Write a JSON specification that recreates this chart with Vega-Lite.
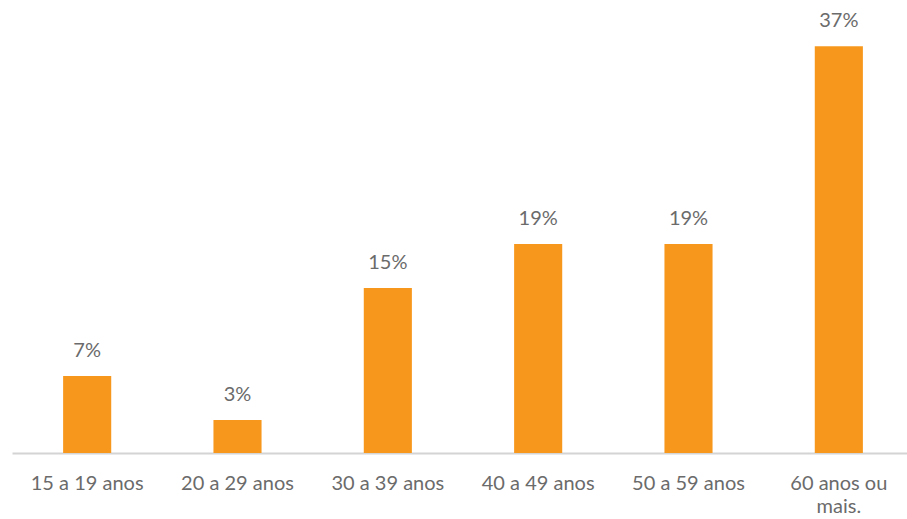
{
  "$schema": "https://vega.github.io/schema/vega-lite/v6.json",
  "autosize": "none",
  "width": 902,
  "height": 453,
  "padding": {"left": 12, "top": 0, "right": 0, "bottom": 66},
  "background": "white",
  "config": {"view": {"stroke": null}},
  "data": {"values": [
    {"faixa": "15 a 19 anos", "pct": 0.07},
    {"faixa": "20 a 29 anos", "pct": 0.03},
    {"faixa": "30 a 39 anos", "pct": 0.15},
    {"faixa": "40 a 49 anos", "pct": 0.19},
    {"faixa": "50 a 59 anos", "pct": 0.19},
    {"faixa": "60 anos ou mais.", "pct": 0.37}
  ]},
  "encoding": {
    "x": {"field": "faixa", "type": "nominal", "sort": null,
      "scale": {"paddingInner": 0.68, "paddingOuter": 0.34},
      "axis": {"title": null, "ticks": false, "labelAngle": 0, "domainColor": "#d4d4d4", "domainWidth": 2,
        "labelFont": "Lato", "labelFontSize": 20, "labelColor": "#6b6b6b", "labelPadding": 20,
        "labelExpr": "datum.label == '60 anos ou mais.' ? ['60 anos ou', 'mais.'] : datum.label",
        "labelLineHeight": 23}},
    "y": {"field": "pct", "type": "quantitative", "scale": {"domain": [0, 0.412]}, "axis": null}
  },
  "layer": [
    {"mark": {"type": "bar", "color": "#F7981D"}},
    {"mark": {"type": "text", "baseline": "alphabetic", "dy": -19, "font": "Lato", "fontSize": 20, "color": "#6b6b6b"},
     "encoding": {"text": {"field": "pct", "type": "quantitative", "format": ".0%"}}}
  ]
}
